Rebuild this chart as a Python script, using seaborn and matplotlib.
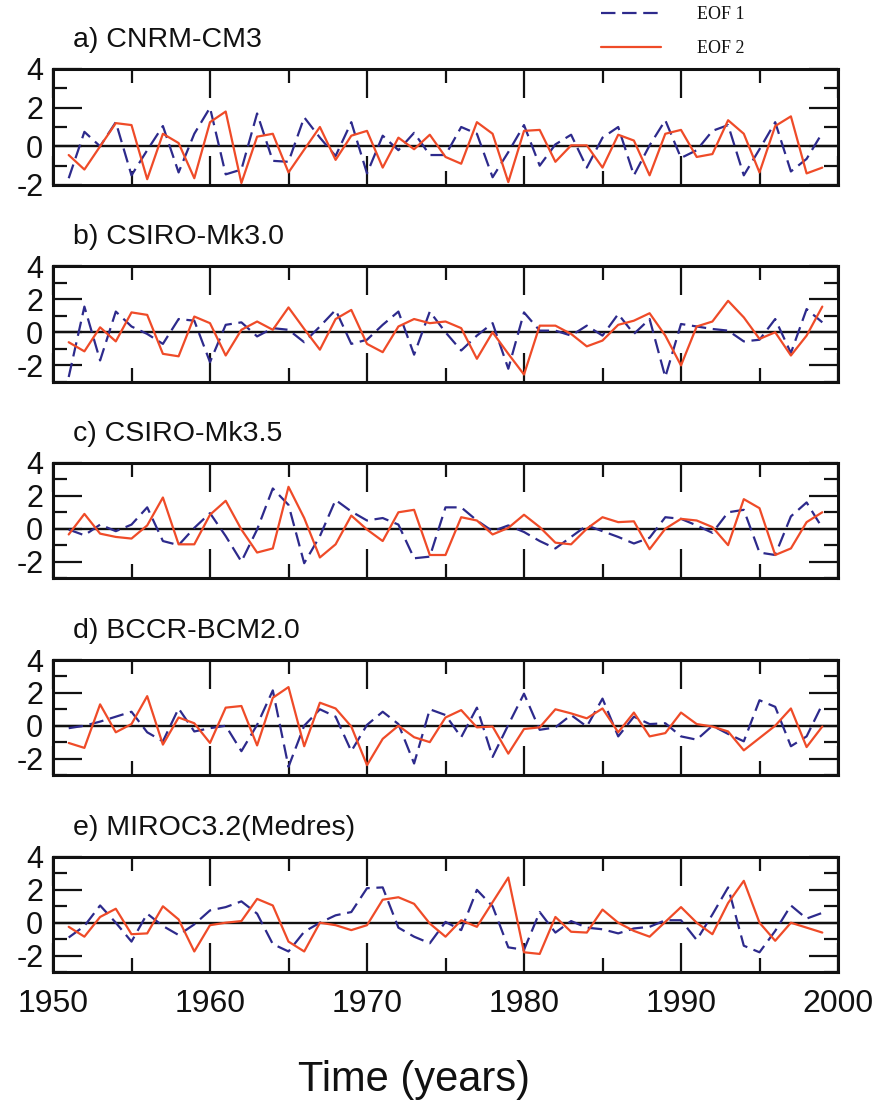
import numpy as np
import pandas as pd
import matplotlib
matplotlib.use("Agg")
import matplotlib.pyplot as plt
from matplotlib.ticker import MultipleLocator
import seaborn as sns

years = list(range(1951, 2000))

titles = ["a) CNRM-CM3", "b) CSIRO-Mk3.0", "c) CSIRO-Mk3.5", "d) BCCR-BCM2.0", "e) MIROC3.2(Medres)"]

a_eof1 = [-1.65, 0.75, 0.0, 1.25, -1.5, -0.2, 1.05, -1.35, 0.65, 2.0, -1.45, -1.2, 1.7, -0.75, -0.8, 1.5, 0.45, -0.5, 1.25, -1.4,
          0.55, -0.2, 0.7, -0.45, -0.45, 1.0, 0.65, -1.6, -0.3, 1.1, -1.0, 0.1, 0.6, -1.1, 0.45, 1.0, -1.5, 0.05, 1.35, -0.6,
          -0.2, 0.8, 1.1, -1.5, -0.15, 1.25, -1.3, -0.65, 0.7]
a_eof2 = [-0.45, -1.2, 0.0, 1.2, 1.1, -1.7, 0.65, 0.17, -1.65, 1.25, 1.8, -1.9, 0.5, 0.65, -1.35, -0.17, 1.0, -0.7, 0.55, 0.8,
          -1.1, 0.45, -0.15, 0.6, -0.55, -0.9, 1.25, 0.65, -1.85, 0.8, 0.85, -0.8, 0.05, 0.05, -1.1, 0.6, 0.3, -1.5, 0.65, 0.85,
          -0.55, -0.4, 1.35, 0.65, -1.35, 1.05, 1.55, -1.4, -1.1]

b_eof1 = [-2.7, 1.55, -1.7, 1.25, 0.35, -0.1, -0.7, 0.8, 0.7, -1.8, 0.45, 0.6, -0.25, 0.25, 0.15, -0.6, 0.35, 1.35, -0.7, -0.45,
          0.45, 1.25, -1.35, 1.25, 0.0, -1.1, -0.2, 0.55, -2.2, 1.2, 0.1, 0.1, -0.2, 0.4, -0.2, 1.1, -0.1, 0.8, -2.7, 0.5,
          0.35, 0.2, 0.1, -0.55, -0.45, 0.8, -1.25, 1.4, 0.6]
b_eof2 = [-0.6, -1.15, 0.3, -0.55, 1.2, 1.05, -1.3, -1.45, 0.95, 0.55, -1.4, 0.15, 0.65, 0.15, 1.5, 0.2, -1.05, 0.8, 1.35, -0.7,
          -1.2, 0.35, 0.8, 0.55, 0.65, 0.25, -1.6, 0.0, -1.3, -2.55, 0.4, 0.4, -0.1, -0.85, -0.5, 0.45, 0.7, 1.15, -0.2, -2.0,
          0.35, 0.65, 1.9, 0.9, -0.4, 0.0, -1.4, -0.2, 1.55]

c_eof1 = [-0.05, -0.4, 0.25, -0.15, 0.25, 1.3, -0.75, -1.0, 0.05, 0.95, -0.45, -2.0, -0.05, 2.45, 1.45, -2.1, -0.45, 1.75, 1.05, 0.5,
          0.65, 0.25, -1.8, -1.7, 1.3, 1.3, 0.5, -0.15, 0.2, -0.2, -0.75, -1.2, -0.5, 0.2, -0.15, -0.5, -0.9, -0.55, 0.7, 0.6,
          0.2, -0.25, 1.0, 1.15, -1.45, -1.6, 0.75, 1.6, 0.05]
c_eof2 = [-0.35, 0.9, -0.3, -0.5, -0.6, 0.2, 1.9, -0.95, -0.95, 0.85, 1.7, -0.05, -1.45, -1.2, 2.55, 0.65, -1.75, -0.95, 0.8, -0.05,
          -0.75, 1.0, 1.15, -1.6, -1.6, 0.7, 0.5, -0.35, 0.05, 0.85, 0.1, -0.85, -0.95, 0.0, 0.7, 0.4, 0.45, -1.25, 0.0, 0.6,
          0.5, 0.1, -1.0, 1.8, 1.25, -1.6, -1.2, 0.4, 1.0]

d_eof1 = [-0.15, 0.0, 0.25, 0.55, 0.85, -0.4, -0.95, 1.05, -0.35, -0.15, 0.0, -1.55, 0.05, 2.15, -2.5, 0.0, 1.0, 0.55, -1.55, 0.05,
          0.85, 0.1, -2.3, 1.0, 0.65, -0.7, 1.1, -1.9, 0.05, 1.95, -0.25, -0.1, 0.65, -0.05, 1.65, -0.65, 0.55, 0.1, 0.15, -0.65,
          -0.85, 0.0, -0.5, -0.95, 1.55, 1.15, -1.25, -0.65, 1.3]
d_eof2 = [-1.05, -1.35, 1.3, -0.4, 0.1, 1.8, -1.15, 0.5, 0.15, -1.05, 1.1, 1.2, -1.2, 1.7, 2.35, -1.25, 1.4, 1.05, -0.05, -2.4,
          -0.8, 0.0, -0.7, -1.0, 0.5, 0.95, -0.1, -0.05, -1.7, -0.2, -0.1, 1.0, 0.75, 0.45, 1.05, -0.4, 0.8, -0.65, -0.45, 0.8,
          0.1, -0.05, -0.35, -1.5, -0.75, 0.0, 1.05, -1.3, -0.05]

e_eof1 = [-0.9, -0.2, 1.05, 0.0, -1.15, 0.55, -0.2, -0.75, -0.1, 0.75, 0.95, 1.3, 0.55, -1.3, -1.75, -0.55, 0.0, 0.45, 0.65, 2.1,
          2.15, -0.3, -0.85, -1.25, 0.05, -0.45, 2.0, 1.0, -1.5, -1.65, 0.65, -0.6, 0.1, -0.3, -0.4, -0.65, -0.35, -0.25, 0.15, 0.15,
          -1.05, 0.5, 2.15, -1.4, -1.8, -0.5, 1.05, 0.25, 0.6]
e_eof2 = [-0.25, -0.85, 0.35, 0.85, -0.7, -0.65, 1.0, 0.2, -1.75, -0.15, 0.0, 0.1, 1.45, 1.05, -1.15, -1.75, 0.0, -0.15, -0.45, -0.15,
          1.4, 1.55, 1.15, -0.05, -0.85, 0.15, -0.25, 1.25, 2.75, -1.8, -1.9, 0.35, -0.55, -0.6, 0.8, 0.0, -0.5, -0.85, 0.05, 0.95,
          0.0, -0.7, 1.2, 2.55, 0.0, -1.1, 0.0, -0.3, -0.6]

eof1_series = [a_eof1, b_eof1, c_eof1, d_eof1, e_eof1]
eof2_series = [a_eof2, b_eof2, c_eof2, d_eof2, e_eof2]
ylims = [(-2, 4), (-3, 4), (-3, 4), (-3, 4), (-3, 4)]
xticklabels = ["1950", "1960", "1970", "1980", "1990", "2000"]
legend_labels = ["EOF 1", "EOF 2"]

BLUE = "#2d2a8c"
RED = "#ef4b28"
INK = "#111111"

sns.set_style("ticks")
plt.rcParams["font.family"] = ["Liberation Sans", "DejaVu Sans"]
plt.rcParams["text.color"] = INK
plt.rcParams["xtick.color"] = INK
plt.rcParams["ytick.color"] = INK
plt.rcParams["axes.edgecolor"] = INK

W, H = 875, 1101
fig = plt.figure(figsize=(W / 100, H / 100), dpi=100)

left_px, right_px = 53, 838
tops = [69, 266, 463, 660, 857]
heights = [116, 116, 115, 115, 115]

axes = []
for i in range(5):
    top = tops[i]
    h = heights[i]
    ax = fig.add_axes([left_px / W, 1 - (top + h) / H, (right_px - left_px) / W, h / H])
    axes.append(ax)
    df = pd.DataFrame({"year": years, "eof1": eof1_series[i], "eof2": eof2_series[i]})
    ax.axhline(0, color=INK, lw=1.7, zorder=1)
    sns.lineplot(data=df, x="year", y="eof1", ax=ax, color=BLUE, lw=1.6,
                 linestyle=(0, (6.5, 3)), label=legend_labels[0] if i == 0 else None,
                 errorbar=None, legend=False, zorder=3)
    sns.lineplot(data=df, x="year", y="eof2", ax=ax, color=RED, lw=1.6,
                 label=legend_labels[1] if i == 0 else None,
                 errorbar=None, legend=False, zorder=4)
    ax.set_xlim(1950, 2000)
    ax.set_ylim(*ylims[i])
    ax.xaxis.set_major_locator(MultipleLocator(10))
    ax.xaxis.set_minor_locator(MultipleLocator(5))
    ax.yaxis.set_major_locator(MultipleLocator(2))
    ax.yaxis.set_minor_locator(MultipleLocator(1))
    ax.tick_params(which="both", direction="in", top=True, right=True, width=1.6,
                   color=INK, labelcolor=INK)
    ax.tick_params(which="major", length=21)
    ax.tick_params(which="minor", length=10)
    ax.tick_params(axis="y", which="major", labelsize=22, pad=7)
    ax.tick_params(axis="x", which="major", labelsize=23, pad=12)
    for s in ax.spines.values():
        s.set_linewidth(2.2)
        s.set_color(INK)
        s.set_visible(True)
    ax.set_yticks([-2, 0, 2, 4])
    ax.set_yticklabels(["-2", "0", "2", "4"])
    if i < 4:
        ax.tick_params(axis="x", labelbottom=False)
    else:
        ax.set_xticks([1950, 1960, 1970, 1980, 1990, 2000])
        ax.set_xticklabels(xticklabels)
    ax.set_xlabel("")
    ax.set_ylabel("")
    ax.annotate(titles[i], xy=(0.026, 1.0), xycoords="axes fraction",
                xytext=(0, 21), textcoords="offset points",
                ha="left", va="center", fontsize=20.5, color=INK)

handles, labels = axes[0].get_legend_handles_labels()
fig.legend(handles, labels, loc="upper left", bbox_to_anchor=(601 / W, 1 - 6 / H),
           frameon=False, borderaxespad=0, borderpad=0, handlelength=3.3,
           handletextpad=2.0, labelspacing=0.95,
           prop={"family": ["Liberation Serif"], "size": 13})

fig.text(414 / W, 1 - 1080 / H, "Time (years)", ha="center", va="center", fontsize=30, color=INK)

fig.savefig("out.png", dpi=100)
